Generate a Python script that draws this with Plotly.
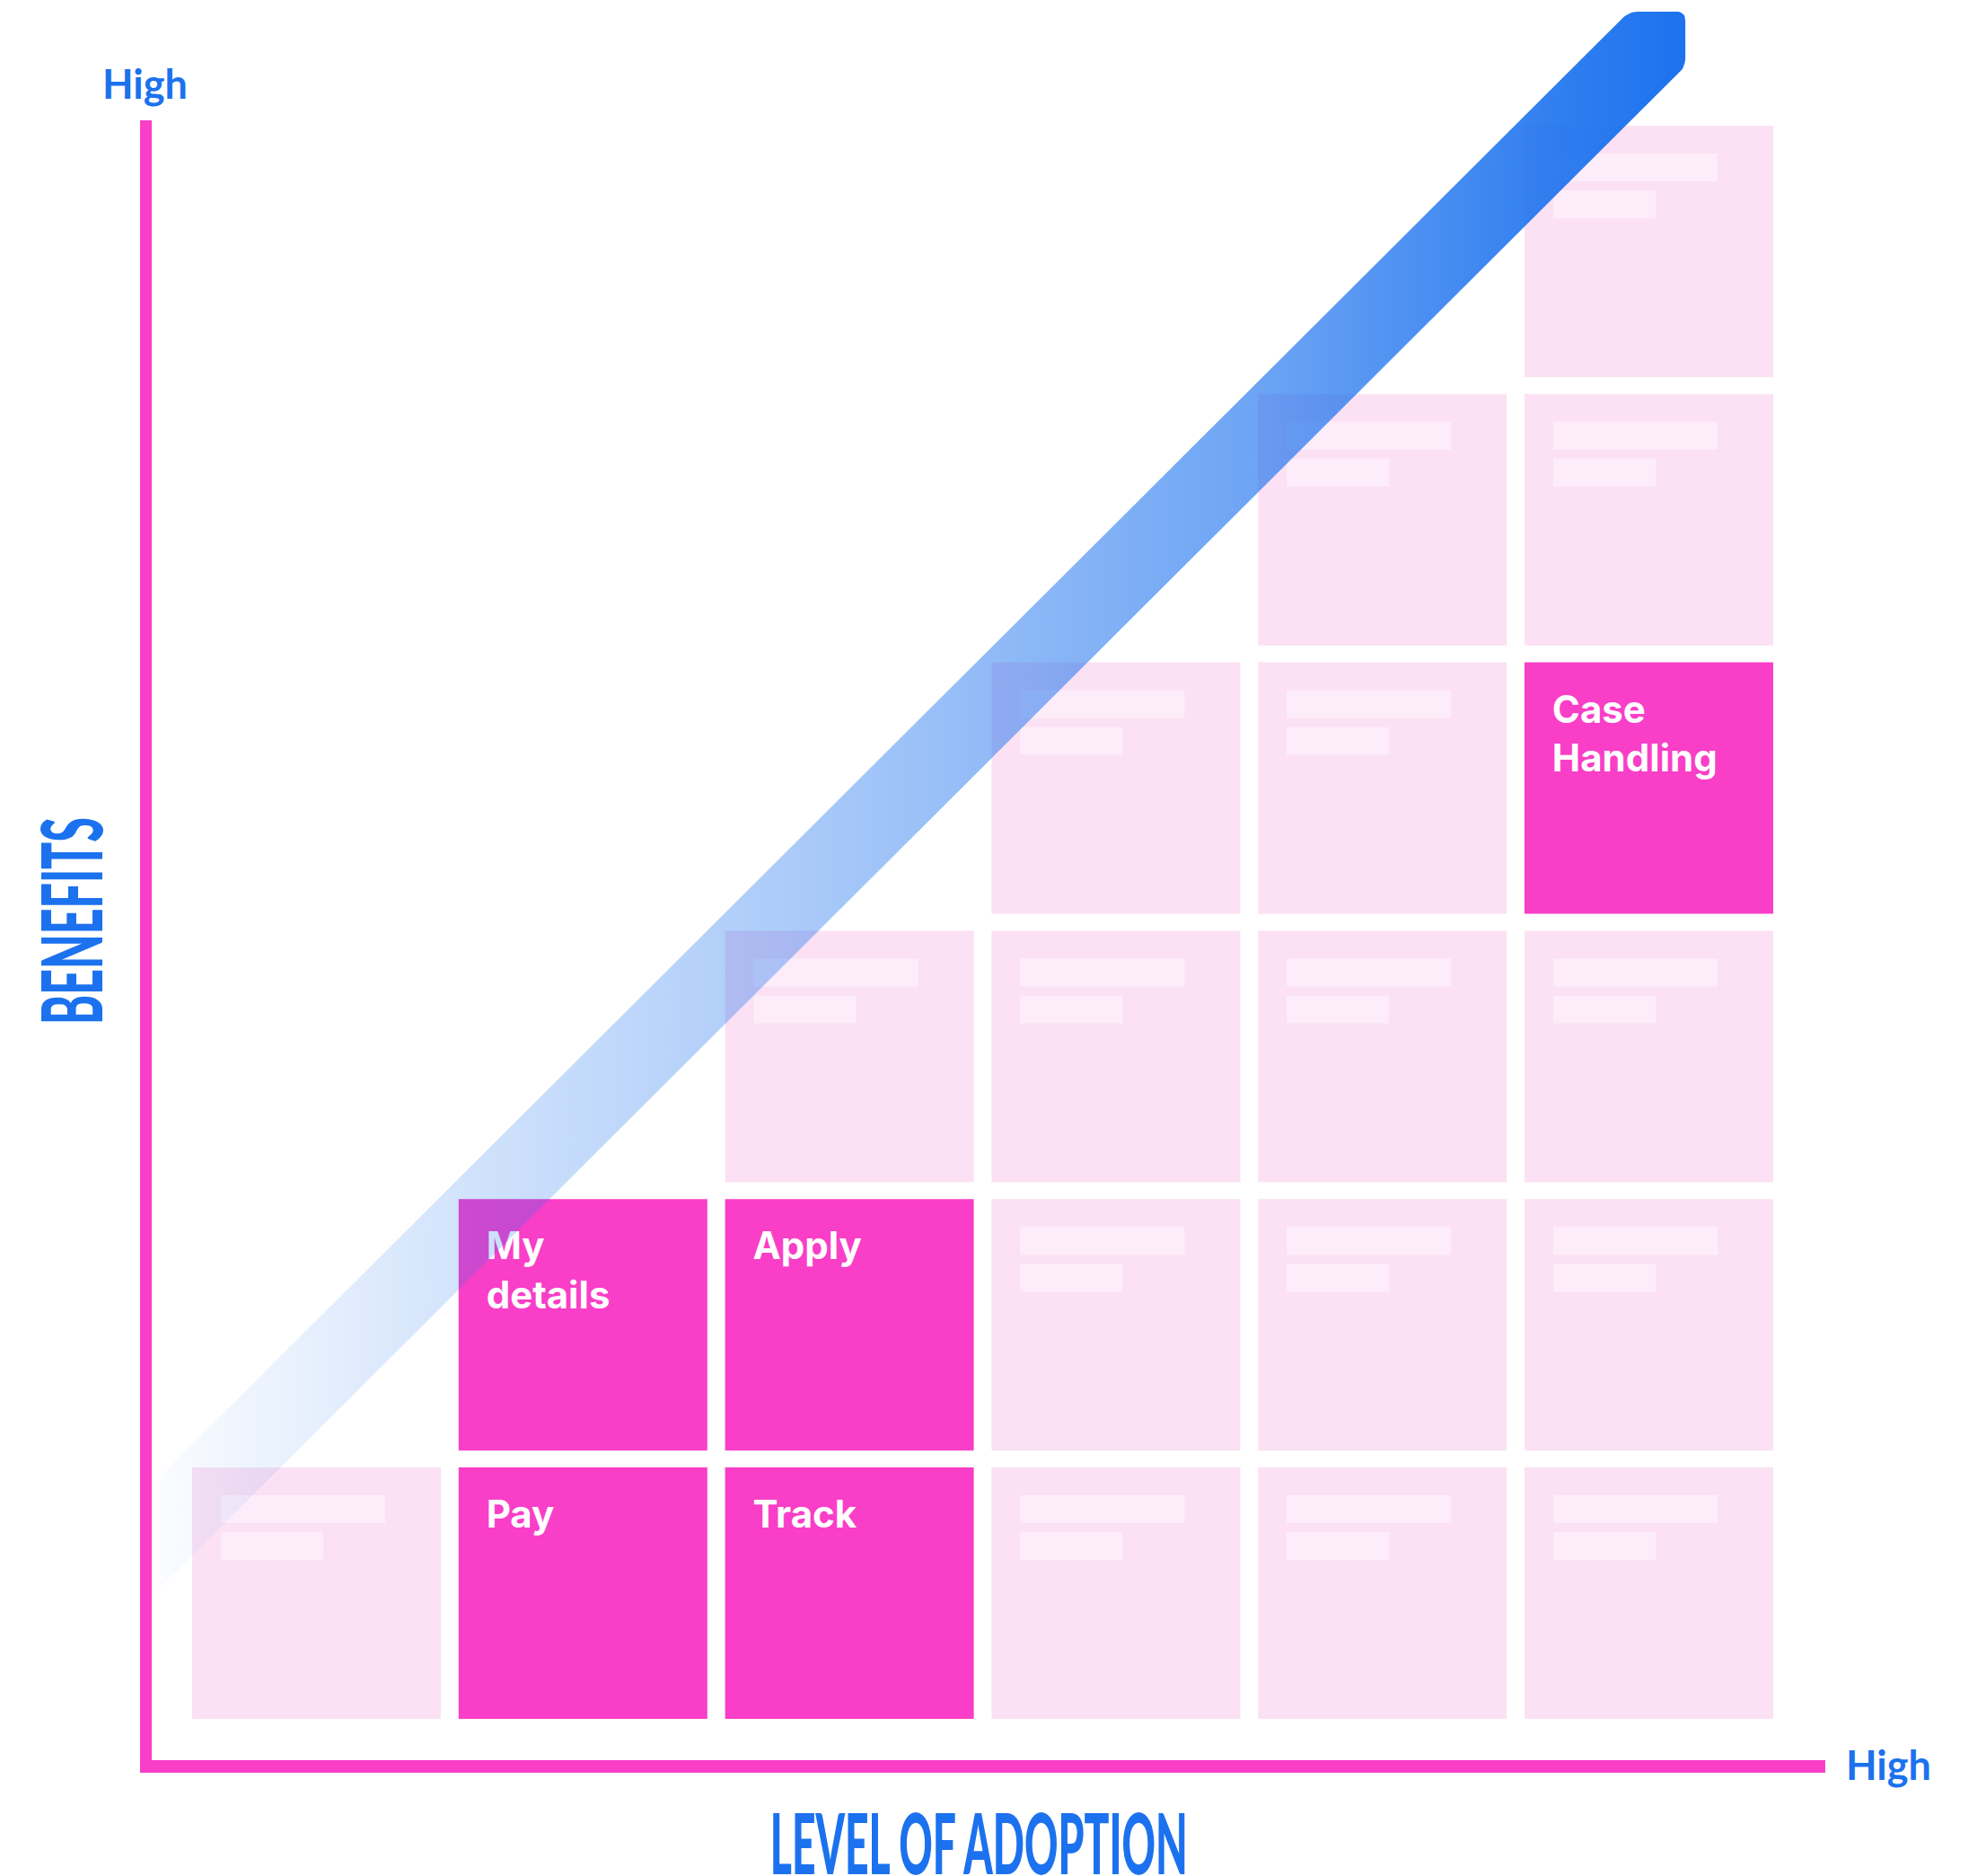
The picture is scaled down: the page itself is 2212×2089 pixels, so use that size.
import plotly.graph_objects as go
import numpy as np

# ---------------- data ----------------
ADOPTION = [1, 2, 3, 4, 5, 6,
            2, 3, 4, 5, 6,
            3, 4, 5, 6,
            4, 5, 6,
            5, 6,
            6]
BENEFIT = [1, 1, 1, 1, 1, 1,
           2, 2, 2, 2, 2,
           3, 3, 3, 3,
           4, 4, 4,
           5, 5,
           6]
LABELS = ["", "Pay", "Track", "", "", "",
          "My<br>details", "Apply", "", "", "",
          "", "", "", "",
          "", "", "Case<br>Handling",
          "", "",
          ""]
END_LABEL = "High"
X_TITLE = "LEVEL OF ADOPTION"
Y_TITLE = "BENEFITS"

# trend band (in axis units): tail x, head x, slope, lower/upper edge at tail, head top
TREND_X = [0.409, 6.137]
TREND_EDGES_AT_TAIL = [1.017, 1.432]
TREND_SLOPE = 0.99
TREND_TOP = 6.894

# ---------------- style ----------------
W, H = 2212, 2089
X_RANGE = [-0.1877, 7.2652]
Y_RANGE = [-0.0542, 6.9371]
CELL_W, CELL_H = 0.9333, 0.937
PALE = "#FBE1F3"
BAR = "#FDEDFA"
HOT = "#F93EC7"
BLUE = "#1C72EE"

fig = go.Figure()
shapes = []

# axis lines (L-shaped)
AX_X0, AX_X1 = 0.338, 6.662
AX_Y0, AX_Y1 = 0.331, 6.489
shapes.append(dict(type="rect", xref="x", yref="y", x0=AX_X0, x1=AX_X0 + 13 / 296.8,
                   y0=AX_Y0, y1=AX_Y1, fillcolor=HOT, line=dict(width=0), layer="below"))
shapes.append(dict(type="rect", xref="x", yref="y", x0=AX_X0, x1=AX_X1,
                   y0=AX_Y0, y1=AX_Y0 + 14 / 298.8, fillcolor=HOT, line=dict(width=0), layer="below"))

text_x, text_y, text_s = [], [], []
for a, b, lab in zip(ADOPTION, BENEFIT, LABELS):
    x0, x1 = a - CELL_W / 2, a + CELL_W / 2
    y0, y1 = b - CELL_H / 2, b + CELL_H / 2
    col = HOT if lab else PALE
    shapes.append(dict(type="rect", xref="x", yref="y", x0=x0, x1=x1, y0=y0, y1=y1,
                       fillcolor=col, line=dict(width=0), layer="below"))
    if lab:
        text_x.append(x0 + 0.104)
        text_y.append(y1 - 0.119)
        text_s.append(lab)
    else:
        bx0 = x0 + 0.1078
        shapes.append(dict(type="rect", xref="x", yref="y", x0=bx0, x1=bx0 + 0.6166,
                           y0=y1 - 0.1037 - 0.1037, y1=y1 - 0.1037,
                           fillcolor=BAR, line=dict(width=0), layer="below"))
        shapes.append(dict(type="rect", xref="x", yref="y", x0=bx0, x1=bx0 + 0.3841,
                           y0=y1 - 0.241 - 0.1037, y1=y1 - 0.241,
                           fillcolor=BAR, line=dict(width=0), layer="below"))

fig.add_trace(go.Scatter(
    x=text_x, y=text_y, text=text_s, mode="text", textposition="bottom right",
    textfont=dict(family="Inter, Roboto, sans-serif", size=42, color="white", weight=700),
    hoverinfo="skip", showlegend=False, cliponaxis=False))

# trend band polygon
tx0, tx1 = TREND_X
l0, u0 = TREND_EDGES_AT_TAIL
pts = [
    (tx0, l0),
    (tx1, l0 + TREND_SLOPE * (tx1 - tx0)),
    (tx1, TREND_TOP),
    (tx0 + (TREND_TOP - u0) / TREND_SLOPE, TREND_TOP),
    (tx0, u0),
]
rounded = {1, 2, 3}
r = 0.035
px, py = [], []
n = len(pts)
for i, (vx, vy) in enumerate(pts):
    if i in rounded:
        pvx, pvy = pts[i - 1]
        nvx, nvy = pts[(i + 1) % n]
        d1 = np.hypot(pvx - vx, pvy - vy)
        d2 = np.hypot(nvx - vx, nvy - vy)
        ax_, ay_ = vx + r * (pvx - vx) / d1, vy + r * (pvy - vy) / d1
        bx_, by_ = vx + r * (nvx - vx) / d2, vy + r * (nvy - vy) / d2
        for t in np.linspace(0, 1, 8):
            px.append((1 - t) ** 2 * ax_ + 2 * (1 - t) * t * vx + t ** 2 * bx_)
            py.append((1 - t) ** 2 * ay_ + 2 * (1 - t) * t * vy + t ** 2 * by_)
    else:
        px.append(vx)
        py.append(vy)
px.append(px[0])
py.append(py[0])


def rgba(a):
    return f"rgba(28,114,238,{a})"


fig.add_trace(go.Scatter(
    x=px, y=py, mode="lines", fill="toself", line=dict(width=0, color=rgba(0)),
    fillgradient=dict(type="horizontal",
                      colorscale=[[0, rgba(0.02)], [0.2, rgba(0.2)], [0.475, rgba(0.42)],
                                  [0.725, rgba(0.65)], [0.89, rgba(0.88)], [1, rgba(1)]]),
    hoverinfo="skip", showlegend=False))

annotations = [
    dict(text=END_LABEL, x=0.356, y=6.626, xref="x", yref="y", showarrow=False,
         xanchor="center", yanchor="middle",
         font=dict(family="Lato, sans-serif", size=45, color=BLUE, weight=700)),
    dict(text=END_LABEL, x=6.901, y=0.361, xref="x", yref="y", showarrow=False,
         xanchor="center", yanchor="middle",
         font=dict(family="Lato, sans-serif", size=45, color=BLUE, weight=700)),
    dict(text=X_TITLE, x=1 + (1090 - 352.5) / 296.8, y=0.0763, xref="x", yref="y",
         showarrow=False, xanchor="center", yanchor="middle",
         font=dict(family="Lato, sans-serif", size=94, color=BLUE, weight=900)),
    dict(text=Y_TITLE, x=0.0718, y=3.503, xref="x", yref="y", showarrow=False,
         xanchor="center", yanchor="middle", textangle=-90,
         font=dict(family="Lato, sans-serif", size=94, color=BLUE, weight=900)),
]

axis_common = dict(showgrid=False, zeroline=False, showticklabels=False, ticks="",
                   showline=False, fixedrange=True)
fig.update_layout(
    width=W, height=H, margin=dict(l=0, r=0, t=0, b=0, pad=0),
    paper_bgcolor="white", plot_bgcolor="white",
    xaxis=dict(range=X_RANGE, domain=[0, 1], **axis_common),
    yaxis=dict(range=Y_RANGE, domain=[0, 1], **axis_common),
    shapes=shapes, annotations=annotations, showlegend=False,
)

post = """
document.body.style.margin='0';
document.documentElement.style.overflow='hidden';
var els = document.querySelectorAll('text.annotation-text');
els.forEach(function(e){
  var s = e.textContent;
  if (s === 'LEVEL OF ADOPTION') { e.setAttribute('textLength','465'); e.setAttribute('lengthAdjust','spacingAndGlyphs'); }
  if (s === 'BENEFITS') { e.setAttribute('textLength','231'); e.setAttribute('lengthAdjust','spacingAndGlyphs'); }
});
"""
fig.write_html("out.html", config={"displayModeBar": False, "staticPlot": True}, post_script=post)
